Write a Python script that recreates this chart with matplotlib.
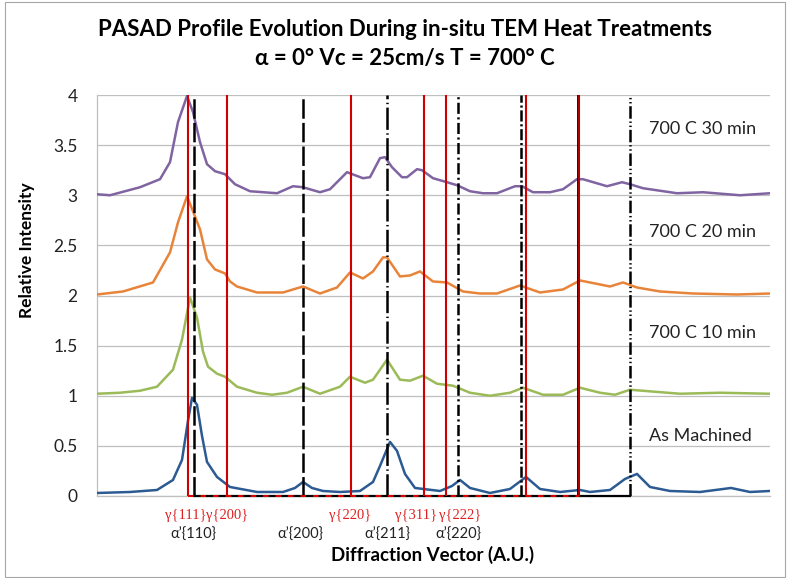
import matplotlib
matplotlib.use("Agg")
import matplotlib.pyplot as plt
from matplotlib.patches import Rectangle

plt.rcParams['font.family'] = ['Lato', 'DejaVu Sans']
plt.rcParams['lines.scale_dashes'] = False

# Diffraction vector positions (A.U.) and relative intensities
x_30 = [97, 110, 140, 160, 170, 178, 187, 193, 200, 207, 215, 225, 235, 250, 277, 293, 303, 320, 330, 347,
        363, 370, 380, 385, 392, 402, 407, 417, 422, 433, 447, 457, 470, 483, 497, 515, 522, 533, 550, 563,
        577, 583, 607, 622, 630, 643, 677, 703, 740, 770]
y_30 = [3.01, 3.00, 3.08, 3.16, 3.33, 3.73, 3.99, 3.83, 3.53, 3.31, 3.24, 3.21, 3.11, 3.04, 3.02, 3.09, 3.08, 3.03, 3.06, 3.23,
        3.17, 3.18, 3.37, 3.38, 3.28, 3.18, 3.18, 3.26, 3.25, 3.17, 3.13, 3.10, 3.04, 3.02, 3.02, 3.09, 3.09, 3.03, 3.03, 3.06,
        3.16, 3.16, 3.09, 3.13, 3.11, 3.07, 3.02, 3.03, 3.00, 3.02]

x_20 = [97, 123, 153, 170, 178, 187, 193, 200, 207, 215, 225, 230, 237, 257, 283, 303, 320, 337, 350, 363,
        373, 383, 387, 400, 410, 420, 433, 447, 463, 480, 497, 520, 540, 563, 580, 610, 623, 637, 660, 693,
        737, 770]
y_20 = [2.01, 2.04, 2.13, 2.43, 2.73, 2.99, 2.84, 2.66, 2.36, 2.26, 2.22, 2.14, 2.09, 2.03, 2.03, 2.09, 2.02, 2.08, 2.23, 2.17,
        2.24, 2.38, 2.38, 2.19, 2.20, 2.24, 2.14, 2.13, 2.04, 2.02, 2.02, 2.10, 2.03, 2.06, 2.15, 2.09, 2.13, 2.08, 2.04, 2.02,
        2.01, 2.02]

x_10 = [97, 120, 140, 157, 173, 182, 190, 197, 203, 208, 217, 225, 237, 257, 272, 287, 303, 320, 340, 350,
        365, 373, 387, 400, 410, 423, 437, 453, 470, 490, 510, 523, 543, 563, 580, 600, 615, 630, 680, 720,
        770]
y_10 = [1.02, 1.03, 1.05, 1.09, 1.26, 1.56, 1.98, 1.78, 1.44, 1.29, 1.22, 1.19, 1.09, 1.03, 1.01, 1.03, 1.09, 1.02, 1.09, 1.19,
        1.13, 1.16, 1.36, 1.16, 1.15, 1.20, 1.12, 1.10, 1.03, 1.00, 1.03, 1.08, 1.01, 1.01, 1.08, 1.03, 1.01, 1.06, 1.02, 1.03,
        1.02]

x_am = [97, 130, 157, 173, 182, 188, 192, 197, 202, 207, 217, 230, 257, 283, 295, 303, 312, 323, 340, 360,
        373, 380, 390, 397, 405, 415, 440, 452, 460, 470, 490, 510, 526, 540, 560, 580, 590, 610, 625, 637,
        650, 670, 700, 731, 750, 770]
y_am = [0.03, 0.04, 0.06, 0.16, 0.36, 0.75, 0.98, 0.91, 0.60, 0.34, 0.19, 0.09, 0.04, 0.04, 0.08, 0.14, 0.08, 0.05, 0.04, 0.05,
        0.14, 0.30, 0.54, 0.45, 0.22, 0.08, 0.05, 0.10, 0.16, 0.08, 0.03, 0.07, 0.19, 0.07, 0.04, 0.06, 0.04, 0.06, 0.17, 0.22,
        0.09, 0.05, 0.04, 0.08, 0.04, 0.05]

series_names = ["700 C 30 min", "700 C 20 min", "700 C 10 min", "As Machined"]
series_label_y = [3.66, 2.63, 1.63, 0.60]

# reference peak positions
gamma_pos = [188, 227, 351, 424, 446, 526, 579]
alpha_pos = [194, 303, 387, 458, 521, 578, 630]
gamma_labels = ["γ{111}", "γ{200}", "γ{220}", "γ{311}", "γ{222}"]
gamma_label_x = [186, 227, 350, 416, 460]
alpha_labels = ["α’{110}", "α’{200}", "α’{211}", "α’{220}"]
alpha_label_x = [193, 300, 387, 458]

alpha_styles = [(0, (14, 3)), (0, (14, 3)), (0, (16, 2.5, 1, 2.5)), (0, (8, 2.5, 1.5, 2.5)),
                (0, (8, 2, 1.5, 2)), '-', (0, (9, 2, 1, 2, 1, 2))]

colors = ["#8064A2", "#E8843A", "#9BBB59", "#2C5A92"]

fig = plt.figure(figsize=(7.88, 5.78), dpi=100)
ax = fig.add_axes([97 / 788, 1 - 496 / 578, 673 / 788, 401 / 578])

for xs, ys, c in zip([x_30, x_20, x_10, x_am], [y_30, y_20, y_10, y_am], colors):
    ax.plot(xs, ys, color=c, linewidth=1.8, zorder=3, solid_joinstyle='round')

# bottom connectors of the reference lines
ax.plot([alpha_pos[0], alpha_pos[-1]], [0, 0], color='black', linewidth=1.6, zorder=4, clip_on=False)
ax.plot([gamma_pos[0], gamma_pos[-1]], [0, 0], color='#E00000', linewidth=1.4,
        linestyle=(0, (4, 5)), zorder=5, clip_on=False)

for p in gamma_pos:
    ax.axvline(p, color='#D00000', linewidth=1.5, zorder=4)
for p, ls in zip(alpha_pos, alpha_styles):
    lw = 2.0 if ls == '-' else 1.8
    ax.axvline(p, color='black', linewidth=lw, linestyle=ls, zorder=4)
# red line drawn over the solid black one
ax.axvline(gamma_pos[-1], color='#D00000', linewidth=1.2, zorder=5)

for name, yy in zip(series_names, series_label_y):
    ax.text(649, yy, name, fontsize=13, color='#222222', va='center', ha='left', zorder=6)

for lab, xx in zip(gamma_labels, gamma_label_x):
    ax.text(xx, -0.19, lab, color='#E02020', fontsize=10.5, ha='center', va='center',
            family=['Liberation Serif', 'DejaVu Serif'], clip_on=False)
for lab, xx in zip(alpha_labels, alpha_label_x):
    ax.text(xx, -0.39, lab, color='#222222', fontsize=10.5, ha='center', va='center', clip_on=False)

ax.text(433, -0.59, "Diffraction Vector (A.U.)", fontsize=13.5, fontweight='bold',
        ha='center', va='center', clip_on=False)

ax.set_xlim(97, 770)
ax.set_ylim(0, 4)
ax.set_yticks([0, 0.5, 1, 1.5, 2, 2.5, 3, 3.5, 4])
ax.set_yticklabels(["0", "0.5", "1", "1.5", "2", "2.5", "3", "3.5", "4"])
ax.set_xticks([])
ax.tick_params(axis='y', length=0, pad=14, labelsize=12.5, labelcolor='#222222')
ax.grid(axis='y', color='#BFBFBF', linewidth=0.9)
ax.set_axisbelow(True)
for s in ['top', 'right']:
    ax.spines[s].set_visible(False)
for s in ['left', 'bottom']:
    ax.spines[s].set_color('#BFBFBF')
    ax.spines[s].set_linewidth(0.9)

ax.set_ylabel("Relative Intensity", fontsize=12.5, fontweight='bold')
ax.yaxis.set_label_coords(-0.092, 0.613)

fig.text(0.514, 1 - 30 / 578, "PASAD Profile Evolution During in-situ TEM Heat Treatments",
         fontsize=16, fontweight='bold', ha='center', va='center')
fig.text(0.514, 1 - 58 / 578, "α = 0° Vc = 25cm/s T = 700° C",
         fontsize=16, fontweight='bold', ha='center', va='center')

fig.patches.append(Rectangle((5 / 788, 0.002), 780 / 788, 0.995, transform=fig.transFigure,
                             fill=False, edgecolor='#A6A6A6', linewidth=0.8))

fig.savefig("out.png", dpi=100)
